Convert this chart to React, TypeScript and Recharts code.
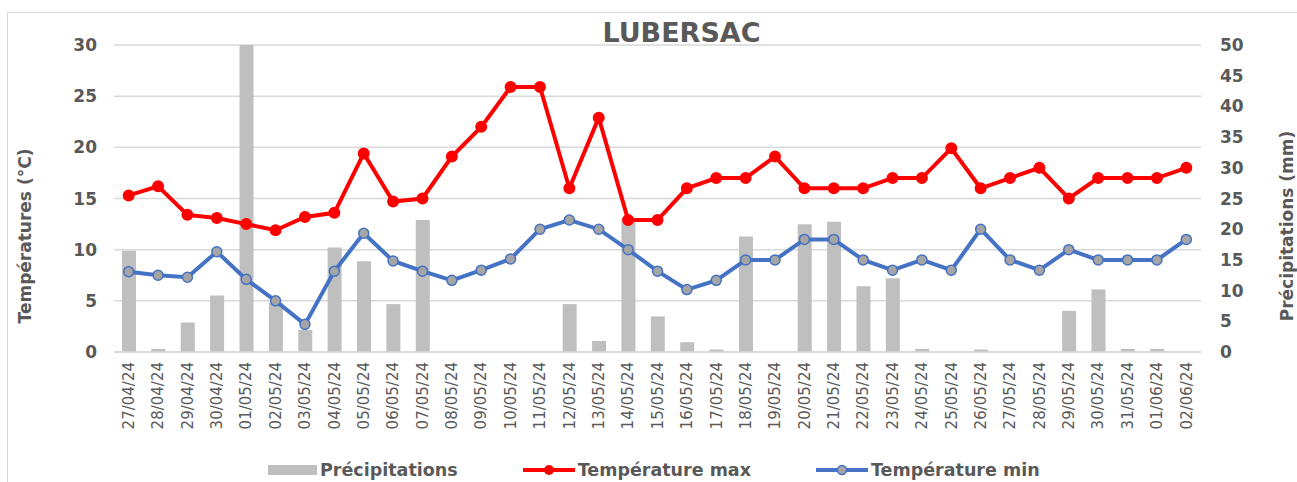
import { ComposedChart, Bar, Line, XAxis, YAxis, CartesianGrid, Legend } from "recharts";

const dates = [
  "27/04/24", "28/04/24", "29/04/24", "30/04/24", "01/05/24", "02/05/24", "03/05/24",
  "04/05/24", "05/05/24", "06/05/24", "07/05/24", "08/05/24", "09/05/24", "10/05/24",
  "11/05/24", "12/05/24", "13/05/24", "14/05/24", "15/05/24", "16/05/24", "17/05/24",
  "18/05/24", "19/05/24", "20/05/24", "21/05/24", "22/05/24", "23/05/24", "24/05/24",
  "25/05/24", "26/05/24", "27/05/24", "28/05/24", "29/05/24", "30/05/24", "31/05/24",
  "01/06/24", "02/06/24",
];

const tempMax = [
  15.3, 16.2, 13.4, 13.1, 12.5, 11.9, 13.2, 13.6, 19.4, 14.7, 15.0, 19.1, 22.0, 25.9,
  25.9, 16.0, 22.9, 12.9, 12.9, 16.0, 17.0, 17.0, 19.1, 16.0, 16.0, 16.0, 17.0, 17.0,
  19.9, 16.0, 17.0, 18.0, 15.0, 17.0, 17.0, 17.0, 18.0,
];

const tempMin = [
  7.85, 7.5, 7.3, 9.8, 7.1, 5.0, 2.7, 7.9, 11.6, 8.9, 7.9, 7.0, 8.0, 9.1, 12.0, 12.9,
  12.0, 10.0, 7.9, 6.1, 7.0, 9.0, 9.0, 11.0, 11.0, 9.0, 8.0, 9.0, 8.0, 12.0, 9.0, 8.0,
  10.0, 9.0, 9.0, 9.0, 11.0,
];

const precipitations = [
  16.5, 0.5, 4.8, 9.2, 50, 8.0, 3.6, 17.0, 14.8, 7.8, 21.5, 0, 0, 0, 0, 7.8, 1.8, 21.8,
  5.8, 1.6, 0.4, 18.8, 0, 20.8, 21.2, 10.7, 12.0, 0.5, 0, 0.4, 0, 0, 6.7, 10.2, 0.5, 0.5, 0,
];

const tempTicks = [0, 5, 10, 15, 20, 25, 30];
const precipTicks = [0, 5, 10, 15, 20, 25, 30, 35, 40, 45, 50];

const data = dates.map((date, i) => ({
  date,
  tmax: tempMax[i],
  tmin: tempMin[i],
  precip: precipitations[i],
}));

const FONT = "'DejaVu Sans', Verdana, sans-serif";
const TEXT = "#595959";

const DateTick = ({ x, y, payload }: any) => (
  <text
    x={x}
    y={y + 2}
    transform={`rotate(-90, ${x}, ${y + 2})`}
    textAnchor="end"
    dy="0.35em"
    fill={TEXT}
    fontSize={15}
    fontFamily={FONT}
  >
    {payload.value}
  </text>
);

const renderLegend = () => (
  <div
    style={{
      display: "flex",
      alignItems: "center",
      height: 24,
      paddingLeft: 268,
      fontFamily: FONT,
      fontWeight: "bold",
      fontSize: 17.5,
      color: TEXT,
      whiteSpace: "nowrap",
    }}
  >
    <svg width={49} height={10} style={{ marginRight: 3 }}>
      <rect x={0} y={0} width={49} height={10} fill="#bfbfbf" />
    </svg>
    <span style={{ marginRight: 65 }}>Précipitations</span>
    <svg width={52} height={12} style={{ marginRight: 3 }}>
      <line x1={0} y1={6} x2={52} y2={6} stroke="#ff0000" strokeWidth={4} />
      <circle cx={26} cy={6} r={5} fill="#ff0000" />
    </svg>
    <span style={{ marginRight: 65 }}>Température max</span>
    <svg width={52} height={12} style={{ marginRight: 3 }}>
      <line x1={0} y1={6} x2={52} y2={6} stroke="#4472c4" strokeWidth={4} />
      <circle cx={26} cy={6} r={4.5} fill="#a5a5a5" stroke="#4472c4" strokeWidth={1.5} />
    </svg>
    <span>Température min</span>
  </div>
);

export default function App() {
  return (
    <div style={{ position: "absolute", left: 0, top: 0, width: 1297, height: 482, background: "#fff", overflow: "hidden" }}>
      <div
        style={{
          position: "absolute",
          left: 7,
          top: 12,
          width: 1300,
          height: 480,
          border: "1.5px solid #d9d9d9",
        }}
      />
      <div
        style={{
          position: "absolute",
          left: 0,
          width: 1363,
          top: 17,
          textAlign: "center",
          fontFamily: FONT,
          fontWeight: "bold",
          fontSize: 27,
          color: TEXT,
          pointerEvents: "none",
          zIndex: 2,
        }}
      >
        LUBERSAC
      </div>
      <ComposedChart
        width={1297}
        height={482}
        data={data}
        margin={{ top: 45, right: 0, bottom: 0, left: 0 }}
        style={{ position: "absolute", left: 0, top: 0 }}
      >
        <CartesianGrid yAxisId="left" vertical={false} stroke="#d9d9d9" strokeWidth={1.5} />
        <XAxis
          dataKey="date"
          interval={0}
          height={106}
          tick={<DateTick />}
          tickLine={false}
          axisLine={{ stroke: "#d9d9d9", strokeWidth: 1.5 }}
        />
        <YAxis
          yAxisId="left"
          domain={[0, 30]}
          ticks={tempTicks}
          width={114}
          axisLine={false}
          tickLine={false}
          tickMargin={11}
          tick={{ fill: TEXT, fontSize: 17, fontWeight: "bold", fontFamily: FONT }}
          label={{
            content: () => (
              <text
                x={25}
                y={236}
                transform="rotate(-90, 25, 236)"
                textAnchor="middle"
                dy="0.35em"
                fill={TEXT}
                fontSize={17}
                fontWeight="bold"
                fontFamily={FONT}
              >
                Températures (°C)
              </text>
            ),
          }}
        />
        <YAxis
          yAxisId="right"
          orientation="right"
          domain={[0, 50]}
          ticks={precipTicks}
          width={96}
          axisLine={false}
          tickLine={false}
          tickMargin={13}
          tick={{ fill: TEXT, fontSize: 17, fontWeight: "bold", fontFamily: FONT }}
          label={{
            content: () => (
              <text
                x={1287}
                y={226}
                transform="rotate(-90, 1287, 226)"
                textAnchor="middle"
                dy="0.35em"
                fill={TEXT}
                fontSize={17}
                fontWeight="bold"
                fontFamily={FONT}
              >
                Précipitations (mm)
              </text>
            ),
          }}
        />
        <Legend verticalAlign="bottom" content={renderLegend} />
        <Bar
          yAxisId="right"
          dataKey="precip"
          name="Précipitations"
          fill="#bfbfbf"
          barSize={14}
          isAnimationActive={false}
        />
        <Line
          yAxisId="left"
          dataKey="tmax"
          name="Température max"
          stroke="#ff0000"
          strokeWidth={4}
          dot={{ r: 5, fill: "#ff0000", stroke: "#ff0000", strokeWidth: 2 }}
          activeDot={false}
          isAnimationActive={false}
        />
        <Line
          yAxisId="left"
          dataKey="tmin"
          name="Température min"
          stroke="#4472c4"
          strokeWidth={4}
          dot={{ r: 5, fill: "#a5a5a5", stroke: "#4472c4", strokeWidth: 1.5 }}
          activeDot={false}
          isAnimationActive={false}
        />
      </ComposedChart>
    </div>
  );
}
